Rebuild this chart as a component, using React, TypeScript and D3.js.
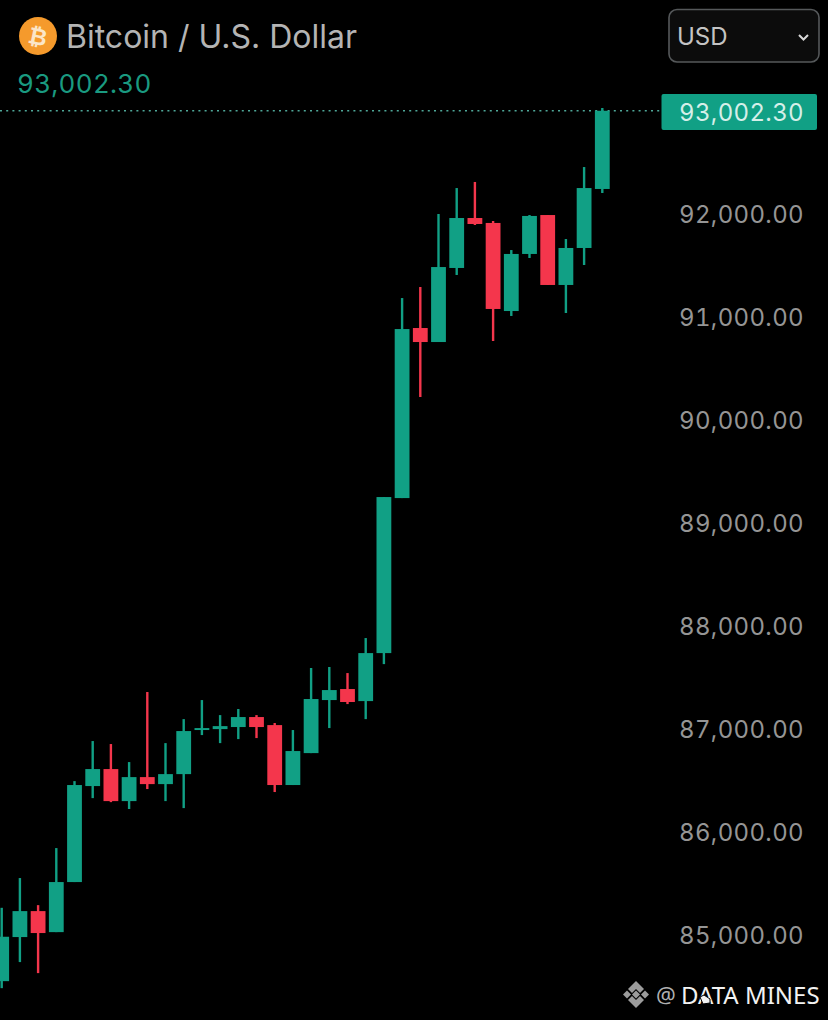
import * as d3 from "d3";

const opens = [84552,84980,85232,85028,85514,86446,86611,86300,86533,86465,86562,86990,86999,87019,87116,87038,86456,86766,87281,87388,87271,87737,89242,90893,90757,91476,91961,91913,91058,91612,91990,91311,91670,92243];
const highs = [85264,85553,85290,85844,86494,86883,86854,86679,87359,86863,87096,87281,87135,87194,87135,87058,86990,87592,87602,87543,87883,89252,91184,91291,92000,92252,92311,91932,91650,91990,91990,91757,92456,93029];
const lows = [84484,84737,84630,85028,85514,86329,86290,86223,86417,86300,86232,86941,86863,86902,86912,86388,86456,86766,87009,87242,87096,87630,89242,90223,90757,91408,91893,90767,91010,91573,91311,91039,91505,92204];
const closes = [84983,85232,85019,85514,86456,86611,86300,86533,86465,86562,86980,87009,87028,87116,87019,86456,86786,87291,87378,87262,87737,89252,90883,90757,91485,91961,91903,91078,91612,91981,91311,91670,92252,93002.3];
const axisTicks = [85000,86000,87000,88000,89000,90000,91000,92000];
const lastPrice = 93002.3;
const titleText = "Bitcoin / U.S. Dollar";
const currency = "USD";
const watermark = "DATA MINES";

const GREEN = "#11a085";
const RED = "#f4364c";
const FONT = "Inter, 'Noto Sans', sans-serif";

const y = d3.scaleLinear().domain([85000, 92000]).range([935, 214]);
const x = d3.scaleLinear().domain([0, 33]).range([1.7, 602.3]);
const fmt = d3.format(",.2f");

const tabular: React.CSSProperties = { fontVariantNumeric: "tabular-nums" };

export default function App() {
  const lastY = y(lastPrice);
  return (
    <svg width={828} height={1020} viewBox="0 0 828 1020"
      style={{ position: "absolute", left: 0, top: 0, background: "#000", display: "block" }}
      fontFamily={FONT}>
      <rect width={828} height={1020} fill="#000" />
      {/* price line */}
      <line x1={0} x2={662} y1={lastY} y2={lastY} stroke="#4fa899" strokeWidth={1.4} strokeDasharray="2 4.2" />
      {/* candles */}
      {opens.map((o, i) => {
        const c = closes[i];
        const color = c >= o ? GREEN : RED;
        const top = y(Math.max(o, c));
        const bot = y(Math.min(o, c));
        return (
          <g key={i}>
            <line x1={x(i)} x2={x(i)} y1={y(highs[i])} y2={y(lows[i])} stroke={color} strokeWidth={2.4} />
            <rect x={x(i) - 7.4} width={14.8} y={top} height={Math.max(bot - top, 1.5)} fill={color} />
          </g>
        );
      })}
      {/* axis labels */}
      {axisTicks.map((t) => (
        <text key={t} x={804} y={y(t)} dy="0.36em" textAnchor="end" fontSize={24} fill="#959595" style={tabular} letterSpacing={0.35}>
          {fmt(t)}
        </text>
      ))}
      {/* last price tag */}
      <rect x={661.5} y={94} width={155.5} height={36} rx={2} fill={GREEN} />
      <text x={804} y={112} dy="0.36em" textAnchor="end" fontSize={24} fill="#d5efe9" style={tabular} letterSpacing={0.35}>
        {fmt(lastPrice)}
      </text>
      {/* header */}
      <circle cx={38} cy={36} r={19} fill="#f59a2c" />
      <text x={38} y={36.5} dy="0.36em" textAnchor="middle" fontSize={23} fontWeight={700} fill="#fbe6c8"
        fontFamily="'DejaVu Sans', sans-serif" transform="rotate(12 38 36)">₿</text>
      <text x={66} y={36} dy="0.36em" fontSize={32} fill="#b4b4b4">{titleText}</text>
      <text x={17} y={84} dy="0.36em" fontSize={26} fill="#1a9a80" style={tabular} letterSpacing={0.3}>{fmt(lastPrice)}</text>
      {/* currency select */}
      <rect x={669} y={9.5} width={150} height={52.5} rx={8} fill="#0c0c0c" stroke="#55585a" strokeWidth={1.6} />
      <text x={677} y={36} dy="0.36em" fontSize={24} fill="#c4c4c4">{currency}</text>
      <path d="M799 35 L803.5 39.5 L808 35" fill="none" stroke="#d8d8d8" strokeWidth={2} />
      {/* watermark */}
      <g fill="#9c9c9c">
        <path d="M636 981 L644 989 L640 993 L636 989 L632 993 L628 989 Z" />
        <path d="M636 1008 L644 1000 L640 996 L636 1000 L632 996 L628 1000 Z" />
        <path d="M636 990.5 L640 994.5 L636 998.5 L632 994.5 Z" />
        <path d="M626 990.5 L630 994.5 L626 998.5 L622 994.5 Z" transform="translate(1 0)" />
        <path d="M646 990.5 L650 994.5 L646 998.5 L642 994.5 Z" transform="translate(-1 0)" />
      </g>
      <text x={656} y={995} dy="0.36em" fontSize={22} fill="#b0b0b0" fontFamily="'Noto Sans', sans-serif">@</text>
      <text x={681} y={995} dy="0.36em" fontSize={24} fill="#f2f2f2" fontFamily="'Noto Sans', sans-serif">{watermark}</text>
      <path d="M700 997 L704 995 L710 999 L710 1003 L703 1004 Z" fill="#f2f2f2" stroke="#000" strokeWidth={1} />
    </svg>
  );
}
